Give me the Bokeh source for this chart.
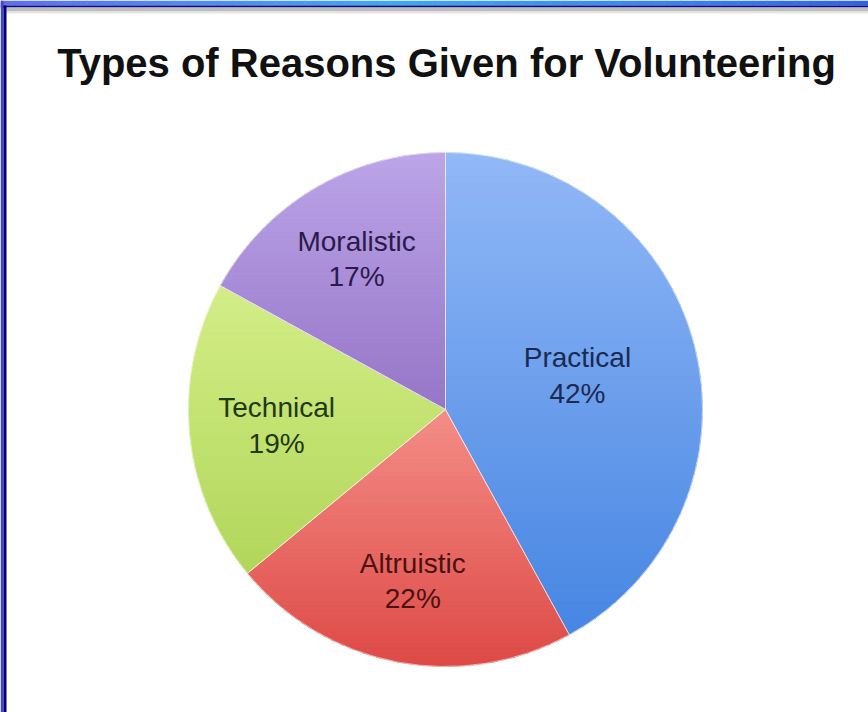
import math
from bokeh.plotting import figure
from bokeh.models import Range1d
from bokeh.core.properties import value
from bokeh.embed import file_html
from bokeh.resources import INLINE

# ---- data ----
title_text = "Types of Reasons Given for Volunteering"
categories = ["Practical", "Altruistic", "Technical", "Moralistic"]
values = [42, 22, 19, 17]
slice_light = ["#92b8f7", "#f48e88", "#d3ee88", "#bca5e8"]
slice_dark = ["#4686e2", "#de4a46", "#b2d65a", "#9676c8"]
label_colors = ["#1c2a52", "#4a1212", "#1f3a10", "#2b1a4c"]
label_radius_frac = [0.53, 0.68, 0.66, 0.68]

W, H = 868, 712
p = figure(width=W, height=H, output_backend="svg", toolbar_location=None,
           x_range=Range1d(0, W), y_range=Range1d(0, H), min_border=0)
p.axis.visible = False
p.grid.visible = False
p.outline_line_color = None
p.background_fill_color = "white"
p.border_fill_color = "white"

def Y(y):
    return H - y

def lerp(c1, c2, t):
    a = [int(c1[i:i+2], 16) for i in (1, 3, 5)]
    b = [int(c2[i:i+2], 16) for i in (1, 3, 5)]
    return "#%02x%02x%02x" % tuple(int(round(a[k] + (b[k] - a[k]) * t)) for k in range(3))

# ---- decorative frame (top gradient + left bar) ----
stops = [(0, "#5f6ef0"), (0.45, "#3fa8f2"), (0.75, "#3b86ee"), (1.0, "#2f62e6")]
nseg = 60
xs, cols = [], []
for i in range(nseg):
    f = (i + 0.5) / nseg
    for j in range(len(stops) - 1):
        if stops[j][0] <= f <= stops[j + 1][0]:
            t = (f - stops[j][0]) / (stops[j + 1][0] - stops[j][0])
            cols.append(lerp(stops[j][1], stops[j + 1][1], t))
            break
    xs.append(i * W / nseg)
p.quad(left=xs, right=[x + W / nseg + 0.5 for x in xs], top=[Y(0)] * nseg, bottom=[Y(5)] * nseg,
       fill_color=cols, line_color=None)
p.quad(left=[0], right=[W], top=[Y(5)], bottom=[Y(7)], fill_color="#0a0c7c", line_color=None)
p.quad(left=[6], right=[W], top=[Y(7)], bottom=[Y(11)], fill_color="#bdbdbd", line_color=None)
p.quad(left=[6], right=[W], top=[Y(11)], bottom=[Y(13)], fill_color="#e4e4e4", line_color=None)
p.quad(left=[0], right=[3], top=[Y(0)], bottom=[Y(H)], fill_color="#4444c4", line_color=None)
p.quad(left=[3], right=[6], top=[Y(5)], bottom=[Y(H)], fill_color="#00007e", line_color=None)

# ---- pie (each slice filled with a vertical gradient) ----
cx, cy, r = 445, Y(409), 257
total = float(sum(values))
starts, ends, mids = [], [], []
cum = 0.0
for v in values:
    s = 90 - cum / total * 360
    cum += v
    e = 90 - cum / total * 360
    starts.append(math.radians(s))
    ends.append(math.radians(e))
    mids.append(math.radians((s + e) / 2))

def clip_half(poly, yv, keep_above):
    out = []
    n = len(poly)
    for i in range(n):
        a, b = poly[i], poly[(i + 1) % n]
        ina = a[1] >= yv if keep_above else a[1] <= yv
        inb = b[1] >= yv if keep_above else b[1] <= yv
        if ina:
            out.append(a)
        if ina != inb:
            t = (yv - a[1]) / (b[1] - a[1])
            out.append((a[0] + t * (b[0] - a[0]), yv))
    return out

band_xs, band_ys, band_cols = [], [], []
nb = 60
for k in range(len(values)):
    s, e = starts[k], ends[k]
    steps = max(8, int(abs(s - e) / math.radians(1.5)))
    poly = [(cx, cy)] + [(cx + r * math.cos(s + (e - s) * i / steps),
                          cy + r * math.sin(s + (e - s) * i / steps)) for i in range(steps + 1)]
    ytop = max(pt[1] for pt in poly)
    ybot = min(pt[1] for pt in poly)
    h = (ytop - ybot) / nb
    for b in range(nb):
        hi = ytop - b * h + (1.0 if b > 0 else 0)
        lo = ytop - (b + 1) * h
        piece = clip_half(clip_half(poly, lo, True), hi, False)
        if len(piece) < 3:
            continue
        band_xs.append([pt[0] for pt in piece])
        band_ys.append([pt[1] for pt in piece])
        band_cols.append(lerp(slice_light[k], slice_dark[k], (b + 0.5) / nb))

p.patches(xs=band_xs, ys=band_ys, fill_color=band_cols, line_color=band_cols,
          line_width=0.6)

# soft slice separators
p.wedge(x=[cx] * len(values), y=[cy] * len(values), radius=r,
        start_angle=starts, end_angle=ends, direction="clock",
        fill_color=None, line_color="white", line_width=1, line_alpha=0.5)

lx = [cx + f * r * math.cos(m) for f, m in zip(label_radius_frac, mids)]
ly = [cy + f * r * math.sin(m) for f, m in zip(label_radius_frac, mids)]
label_text = [f"{c}\n{v}%" for c, v in zip(categories, values)]
p.text(x=lx, y=ly, text=label_text, text_color=label_colors,
       text_font=value("Liberation Sans"), text_font_size="28px",
       text_align="center", text_baseline="middle", text_line_height=1.15)

# ---- title ----
p.text(x=[446], y=[Y(62)], text=[title_text], text_font=value("Liberation Sans"),
       text_font_size="40px", text_font_style="bold", text_color="#111111",
       text_align="center", text_baseline="middle")

open("out.html", "w").write(file_html(p, INLINE))
